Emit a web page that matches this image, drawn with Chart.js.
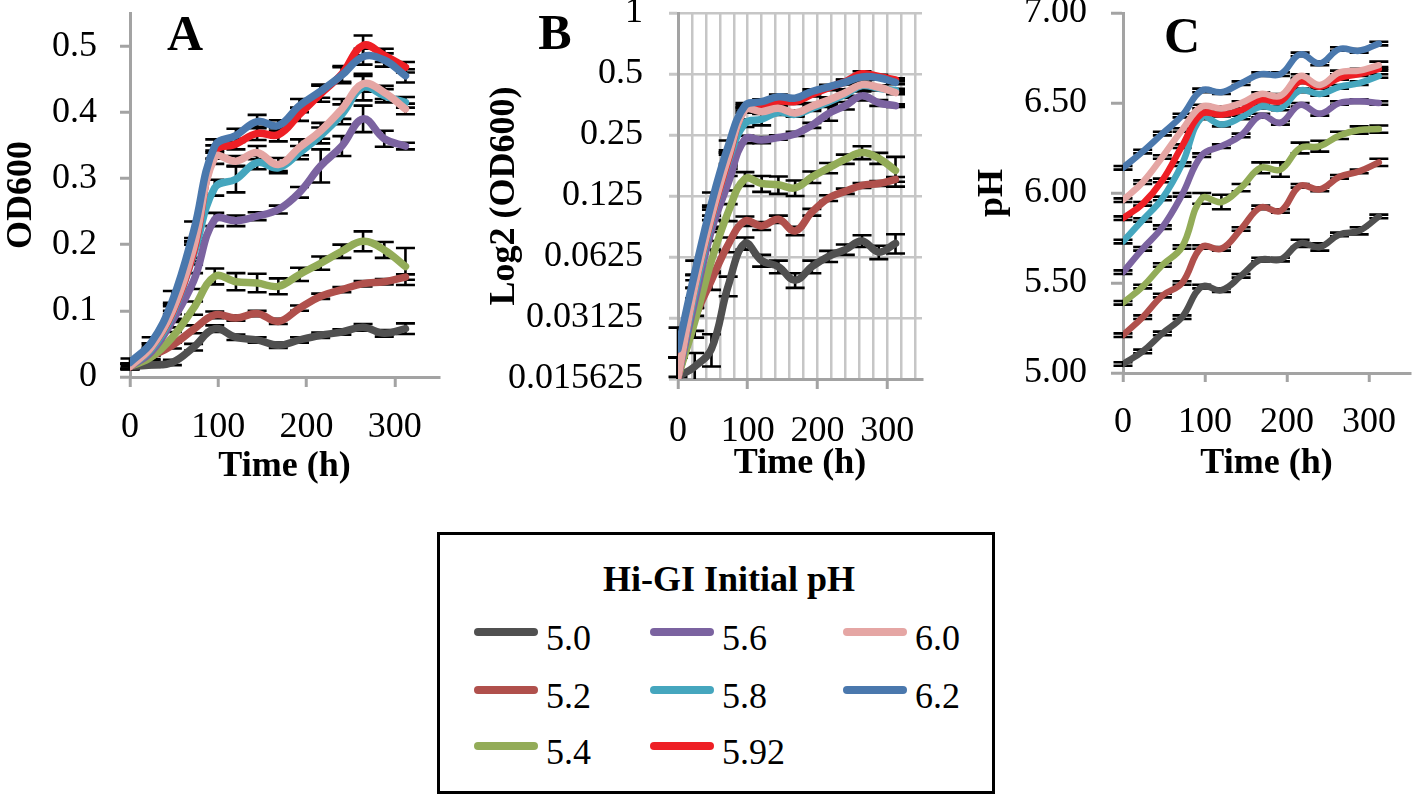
<!DOCTYPE html>
<html><head><meta charset="utf-8">
<script src="https://cdn.jsdelivr.net/npm/chart.js@4.4.1/dist/chart.umd.min.js"></script>
<style>
html,body{margin:0;padding:0;background:#fff;}
body{width:1418px;height:797px;position:relative;overflow:hidden;font-family:"Liberation Serif","Times New Roman",serif;color:#000;}
canvas{position:absolute;top:0;}
.plab{position:absolute;font-weight:bold;font-size:50px;line-height:1;transform:translate(-50%,-50%);}
#legend{position:absolute;left:437px;top:532px;width:552px;height:256px;border:3px solid #000;box-sizing:content-box;}
#legend .ttl{position:absolute;left:0;width:100%;text-align:center;top:44px;transform:translateY(-50%);font-weight:bold;font-size:36px;line-height:1;padding-left:26px;box-sizing:border-box;}
#legend .ln{position:absolute;height:8px;width:64px;border-radius:4px;transform:translateY(-50%);}
#legend .lb{position:absolute;font-size:36px;line-height:1;transform:translateY(-50%);}
</style></head><body>
<canvas id="cA" width="460" height="490" style="left:0px;width:460px;height:490px"></canvas>
<canvas id="cB" width="460" height="490" style="left:470px;width:460px;height:490px"></canvas>
<canvas id="cC" width="478" height="490" style="left:940px;width:478px;height:490px"></canvas>
<div class="plab" style="left:185px;top:33px">A</div>
<div class="plab" style="left:555px;top:32px">B</div>
<div class="plab" style="left:1182px;top:35px">C</div>
<div id="legend"><div class="ttl">Hi-GI Initial pH</div></div>
<script>
// ---------- data ----------
const hours = [0,24,48,72,96,120,144,168,192,216,240,264,288,312];
const seriesLabels = ['5.0','5.2','5.4','5.6','5.8','5.92','6.0','6.2'];
const seriesColors = ['#505050','#b0504c','#93ac58','#7b63a0','#45a6be','#ee1f25','#e5a6a4','#4a78ad'];

// OD600 (panels A and B)
const od50  = [0.016,0.018,0.022,0.045,0.073,0.060,0.056,0.048,0.056,0.063,0.068,0.075,0.066,0.073];
const od52  = [0.016,0.031,0.048,0.072,0.094,0.089,0.096,0.084,0.104,0.122,0.132,0.141,0.144,0.151];
const od54  = [0.016,0.030,0.060,0.104,0.152,0.144,0.142,0.137,0.155,0.172,0.190,0.205,0.192,0.167];
const od56  = [0.016,0.038,0.085,0.145,0.238,0.236,0.243,0.253,0.279,0.319,0.349,0.390,0.360,0.349];
const od58  = [0.016,0.042,0.095,0.185,0.286,0.299,0.324,0.316,0.339,0.365,0.397,0.438,0.425,0.415];
const od592 = [0.016,0.045,0.098,0.190,0.340,0.352,0.368,0.366,0.397,0.428,0.458,0.501,0.486,0.468];
const od60  = [0.016,0.045,0.100,0.195,0.332,0.326,0.339,0.321,0.347,0.372,0.405,0.443,0.430,0.405];
const od62  = [0.022,0.052,0.115,0.220,0.349,0.365,0.386,0.380,0.410,0.432,0.456,0.484,0.479,0.455];

const odErr50  = [0.004,0.003,0.004,0.005,0.005,0.004,0.004,0.004,0.004,0.004,0.004,0.005,0.005,0.008];
const odErr52  = [0.004,0.004,0.005,0.006,0.005,0.004,0.004,0.004,0.004,0.004,0.004,0.004,0.004,0.004];
const odErr54  = [0.004,0.005,0.008,0.010,0.012,0.013,0.014,0.012,0.010,0.010,0.010,0.015,0.012,0.028];
const odErr56  = [0.004,0.006,0.010,0.012,0.010,0.008,0.006,0.006,0.008,0.025,0.015,0.020,0.012,0.005];
const odErr58  = [0.004,0.006,0.012,0.015,0.012,0.020,0.010,0.008,0.010,0.012,0.015,0.020,0.010,0.008];
const odErr592 = [0.004,0.006,0.012,0.015,0.010,0.008,0.010,0.010,0.010,0.012,0.012,0.015,0.010,0.008];
const odErr60  = [0.004,0.006,0.012,0.015,0.010,0.008,0.010,0.010,0.012,0.012,0.015,0.012,0.010,0.008];
const odErr62  = [0.006,0.008,0.015,0.015,0.010,0.010,0.010,0.008,0.010,0.010,0.012,0.012,0.010,0.010];

// pH (panel C)
const ph50  = [5.05,5.12,5.22,5.31,5.48,5.46,5.54,5.63,5.63,5.72,5.70,5.77,5.79,5.87];
const ph52  = [5.21,5.31,5.43,5.50,5.70,5.69,5.80,5.92,5.90,6.04,6.02,6.09,6.12,6.17];
const ph54  = [5.39,5.48,5.60,5.70,5.97,5.95,6.03,6.14,6.13,6.25,6.26,6.32,6.35,6.355];
const ph56  = [5.56,5.69,5.81,5.99,6.21,6.26,6.32,6.43,6.39,6.49,6.44,6.50,6.51,6.50];
const ph58  = [5.73,5.85,5.97,6.16,6.42,6.38,6.42,6.48,6.47,6.57,6.55,6.59,6.61,6.65];
const ph592 = [5.86,5.94,6.07,6.26,6.44,6.435,6.46,6.52,6.51,6.62,6.59,6.64,6.66,6.69];
const ph60  = [5.96,6.06,6.20,6.35,6.48,6.47,6.50,6.55,6.54,6.65,6.60,6.67,6.68,6.71];
const ph62  = [6.14,6.23,6.33,6.43,6.57,6.56,6.61,6.66,6.66,6.77,6.72,6.80,6.79,6.83];

const phErr50  = [0.010,0.010,0.010,0.010,0.010,0.010,0.010,0.010,0.010,0.020,0.020,0.010,0.020,0.010];
const phErr52  = [0.010,0.010,0.010,0.010,0.010,0.010,0.010,0.010,0.010,0.010,0.010,0.010,0.010,0.020];
const phErr54  = [0.010,0.010,0.010,0.010,0.030,0.040,0.020,0.030,0.040,0.030,0.030,0.020,0.020,0.020];
const phErr56  = [0.010,0.010,0.010,0.010,0.010,0.010,0.010,0.010,0.010,0.010,0.010,0.010,0.010,0.010];
const phErr58  = [0.010,0.010,0.010,0.010,0.010,0.010,0.010,0.010,0.010,0.010,0.010,0.010,0.010,0.010];
const phErr592 = [0.010,0.010,0.010,0.010,0.010,0.010,0.010,0.010,0.010,0.010,0.010,0.010,0.010,0.010];
const phErr60  = [0.010,0.010,0.010,0.010,0.010,0.010,0.010,0.010,0.010,0.010,0.010,0.010,0.010,0.020];
const phErr62  = [0.010,0.010,0.010,0.010,0.010,0.010,0.010,0.010,0.010,0.010,0.010,0.010,0.010,0.010];

// ticks
const timeTickValues = [0,100,200,300];
const timeTickLabels = ['0','100','200','300'];
const odTickValues = [0,0.1,0.2,0.3,0.4,0.5];
const odTickLabels = ['0','0.1','0.2','0.3','0.4','0.5'];
const logTickValues = [0.015625,0.03125,0.0625,0.125,0.25,0.5,1];
const logTickLabels = ['0.015625','0.03125','0.0625','0.125','0.25','0.5','1'];
const phTickValues = [5,5.5,6,6.5,7];
const phTickLabels = ['5.00','5.50','6.00','6.50','7.00'];

const odSeries = [od50,od52,od54,od56,od58,od592,od60,od62];
const odErrors = [odErr50,odErr52,odErr54,odErr56,odErr58,odErr592,odErr60,odErr62];
const phSeries = [ph50,ph52,ph54,ph56,ph58,ph592,ph60,ph62];
const phErrors = [phErr50,phErr52,phErr54,phErr56,phErr58,phErr592,phErr60,phErr62];

// ---------- rendering ----------
const FAM = '"Liberation Serif","Times New Roman",serif';
const AXIS = '#a3a3a3';
const GRID = '#c6c6c6';

const errorBarPlugin = {
  id: 'errorBars',
  beforeDatasetsDraw(chart) {
    const ctx = chart.ctx, xs = chart.scales.x, ys = chart.scales.y, ca = chart.chartArea;
    ctx.save();
    ctx.beginPath();
    ctx.rect(0, ca.top - 4, chart.width, ca.bottom - ca.top + 4);
    ctx.clip();
    ctx.strokeStyle = '#000';
    ctx.lineWidth = 2.6;
    ctx.lineCap = 'butt';
    chart.data.datasets.forEach(ds => {
      if (!ds.errors) return;
      ds.data.forEach((p, i) => {
        const e = ds.errors[i];
        const x = xs.getPixelForValue(p.x);
        const yt = ys.getPixelForValue(p.y + e);
        const yb = ys.getPixelForValue(Math.max(p.y - e, 1e-6));
        const hw = 9.5;
        ctx.beginPath();
        ctx.moveTo(x, yt); ctx.lineTo(x, yb);
        ctx.moveTo(x - hw, yt); ctx.lineTo(x + hw, yt);
        ctx.moveTo(x - hw, yb); ctx.lineTo(x + hw, yb);
        ctx.stroke();
      });
    });
    ctx.restore();
  }
};

function makeDatasets(values, errors, lw) {
  return seriesLabels.map((lab, i) => ({
    label: lab,
    data: hours.map((h, k) => ({x: h, y: values[i][k]})),
    errors: errors[i],
    borderColor: seriesColors[i],
    backgroundColor: seriesColors[i],
    borderWidth: lw,
    pointRadius: 0,
    pointHoverRadius: 0,
    tension: 0.4,
    fill: false,
    borderCapStyle: 'round',
    borderJoinStyle: 'round',
    order: seriesLabels.length - 1 - i
  }));
}

function xAxis(opt) {
  return {
    type: 'linear', min: 0, max: 350,
    afterBuildTicks: s => { s.ticks = (opt.gridTimes || timeTickValues).map(v => ({value: v})); },
    ticks: {
      color: '#000', font: {family: FAM, size: 36}, padding: opt.tickPad, maxRotation: 0, autoSkip: false,
      callback: (v) => { const k = timeTickValues.indexOf(v); return k >= 0 ? timeTickLabels[k] : ''; }
    },
    grid: {
      drawOnChartArea: !!opt.grid, color: GRID, lineWidth: 2.5,
      tickLength: opt.tickLen, tickWidth: 3,
      tickColor: c => (c.tick && timeTickValues.indexOf(c.tick.value) >= 0) ? AXIS : 'rgba(0,0,0,0)'
    },
    border: {color: AXIS, width: 3},
    title: {display: true, text: 'Time (h)', color: '#000', font: {family: FAM, size: 36, weight: 'bold'}, padding: {top: 0, bottom: opt.titlePad}},
    afterFit: s => { s.height = opt.height; s.paddingLeft = 0; s.paddingRight = 0; }
  };
}

function yAxis(opt) {
  return {
    type: opt.type || 'linear', min: opt.min, max: opt.max,
    afterBuildTicks: s => { s.ticks = opt.values.map(v => ({value: v})); },
    ticks: {
      color: '#000', font: {family: FAM, size: 36}, padding: opt.tickPad, autoSkip: false,
      callback: (v) => { const k = opt.values.indexOf(v); return k >= 0 ? opt.labels[k] : ''; }
    },
    grid: {drawOnChartArea: !!opt.grid, color: GRID, lineWidth: 2.5, tickLength: opt.tickLen, tickWidth: 3, tickColor: opt.grid ? GRID : AXIS},
    border: {color: AXIS, width: 3},
    title: {display: true, text: opt.title, color: '#000', font: {family: FAM, size: 36, weight: 'bold'}, padding: {top: opt.titlePad, bottom: 0}},
    afterFit: s => { s.width = opt.width; s.paddingTop = 0; s.paddingBottom = 0; }
  };
}

function makeChart(id, values, errors, lw, xo, yo, pad) {
  return new Chart(document.getElementById(id), {
    type: 'line',
    data: {datasets: makeDatasets(values, errors, lw)},
    options: {
      responsive: false, animation: false, devicePixelRatio: 1,
      layout: {padding: pad},
      plugins: {legend: {display: false}, tooltip: {enabled: false}},
      scales: {x: xAxis(xo), y: yAxis(yo)}
    },
    plugins: [errorBarPlugin]
  });
}

// Panel A
makeChart('cA', odSeries, odErrors, 7.5,
  {height: 113, tickPad: 19, tickLen: 10, titlePad: 2},
  {min: 0, max: 0.55, values: odTickValues, labels: odTickLabels, title: 'OD600', width: 130, tickPad: 23, tickLen: 10, titlePad: 0},
  {top: 13, right: 21, left: 0, bottom: 0});

// Panel B (log2 axis)
const bGridTimes = [];
for (let t = 0; t <= 340; t += 20) bGridTimes.push(t);
makeChart('cB', odSeries, odErrors, 7.5,
  {height: 111, tickPad: 21, tickLen: 10, titlePad: 5, grid: true, gridTimes: bGridTimes},
  {type: 'logarithmic', min: 0.015625, max: 1, values: logTickValues, labels: logTickLabels, title: 'Log2 (OD600)', width: 208, tickPad: 26, tickLen: 9, titlePad: 13, grid: true},
  {top: 13, right: 8, left: 0, bottom: 0});

// Panel C
makeChart('cC', phSeries, phErrors, 6.5,
  {height: 117, tickPad: 19, tickLen: 9, titlePad: 5},
  {min: 5, max: 7, values: phTickValues, labels: phTickLabels, title: 'pH', width: 183, tickPad: 24, tickLen: 12, titlePad: 31},
  {top: 13, right: 8, left: 0, bottom: 0});

// Legend (HTML, built from the series arrays)
const legendCols = [34, 210, 403];
const legendRows = [97, 155, 211];
const legend = document.getElementById('legend');
seriesLabels.forEach((lab, i) => {
  const col = Math.floor(i / 3), row = i % 3;
  const ln = document.createElement('div');
  ln.className = 'ln';
  ln.style.left = legendCols[col] + 'px';
  ln.style.top = legendRows[row] + 'px';
  ln.style.background = seriesColors[i];
  legend.appendChild(ln);
  const lb = document.createElement('div');
  lb.className = 'lb';
  lb.textContent = lab;
  lb.style.left = (legendCols[col] + 72) + 'px';
  lb.style.top = (legendRows[row] + 6) + 'px';
  legend.appendChild(lb);
});
</script>
</body></html>
